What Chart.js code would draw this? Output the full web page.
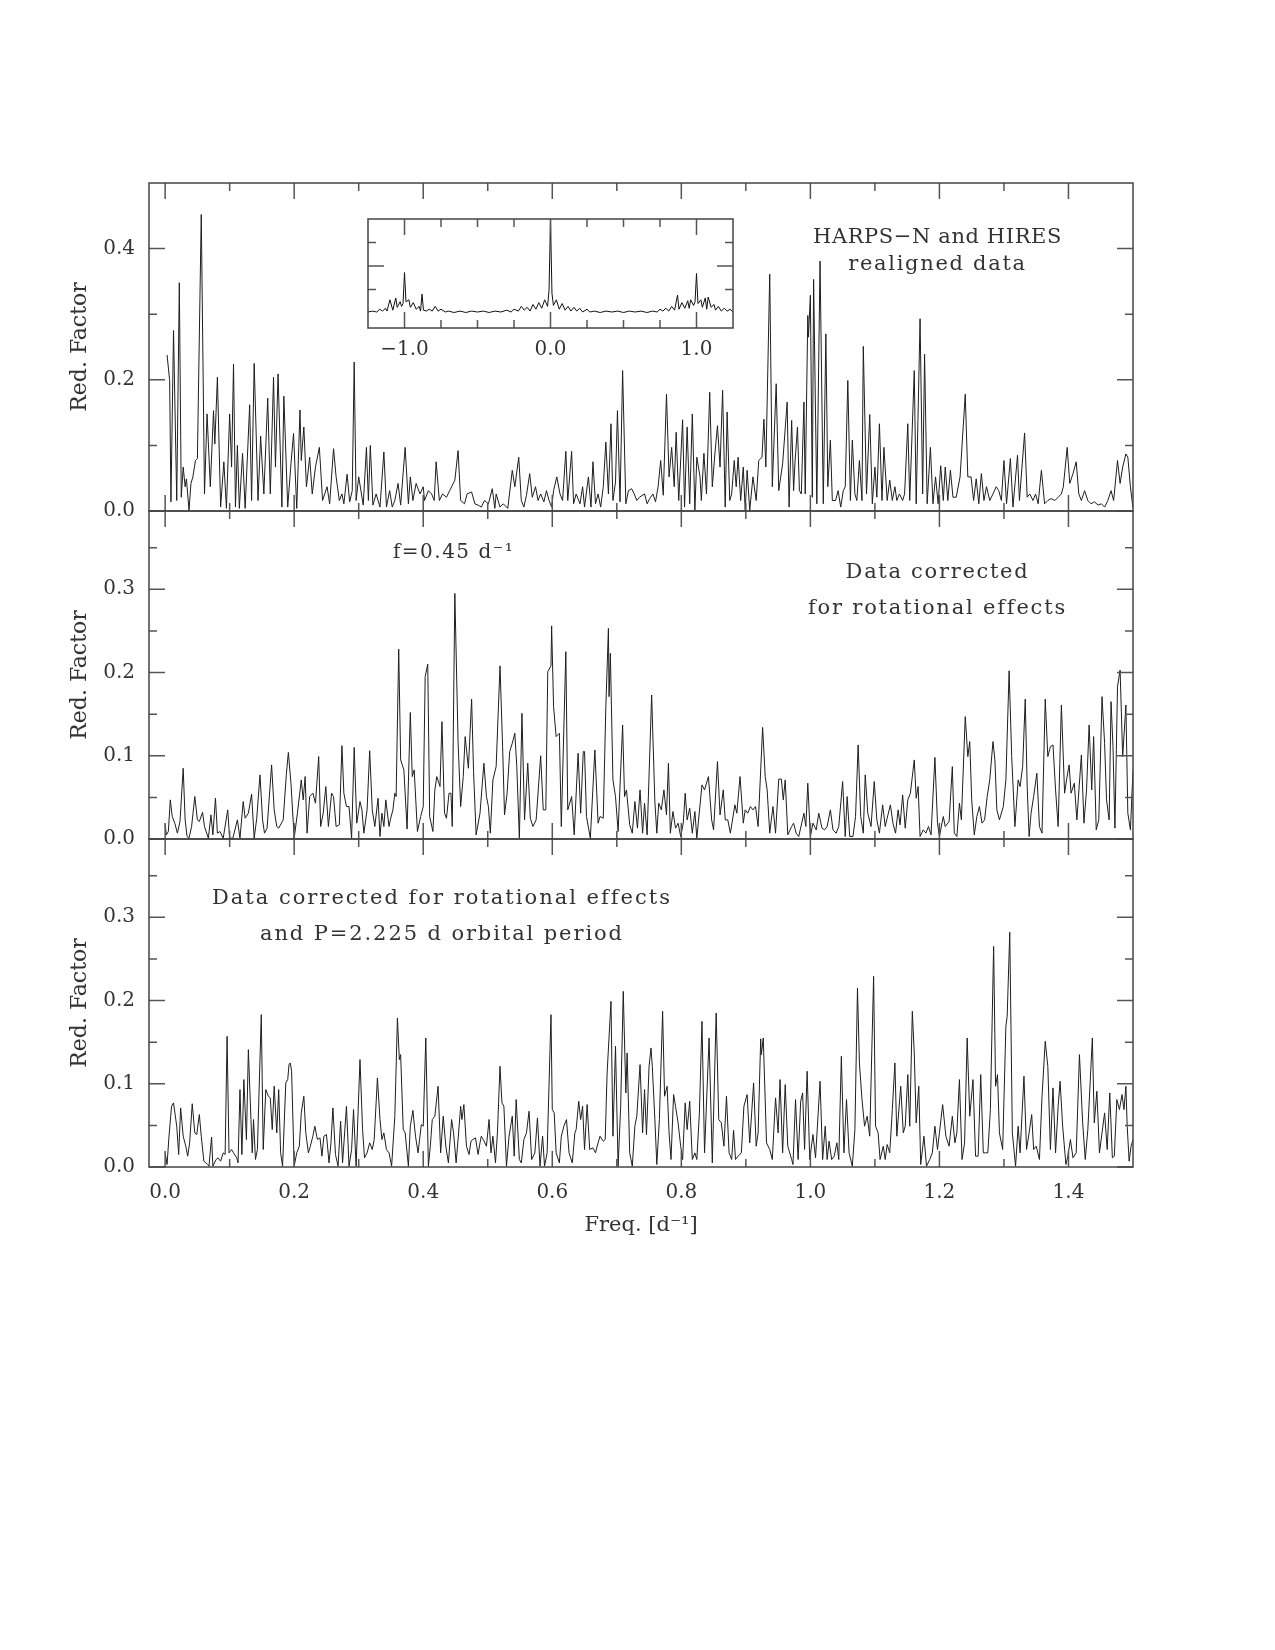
<!DOCTYPE html>
<html lang="en">
<head>
    <meta charset="UTF-8">
    <script src="https://cdn.jsdelivr.net/npm/chart.js"></script>
    <title>Red. Factor periodograms</title>
    <style>
        body {
            margin: 0;
            background: #fff;
        }
        #page {
            position: relative;
            width: 1275px;
            height: 1650px;
            background: #fff;
        }
        canvas {
            position: absolute;
            left: 0;
        }
    </style>
</head>
<body>
<div id="page">
    <canvas id="top" width="1275" height="338" style="top:178px"></canvas>
    <canvas id="mid" width="1275" height="338" style="top:506px"></canvas>
    <canvas id="bot" width="1275" height="420" style="top:834px"></canvas>
    <canvas id="win" width="460" height="150" style="left:300px;top:214px"></canvas>
</div>
<script>
    // tick values
    const freqTicks = [0, 0.2, 0.4, 0.6, 0.8, 1.0, 1.2, 1.4];
    const freqMinor = [0.1, 0.3, 0.5, 0.7, 0.9, 1.1, 1.3];
    const redTicksTop = [0, 0.2, 0.4];
    const redMinorTop = [0.1, 0.3];
    const redTicks = [0, 0.1, 0.2, 0.3];
    const redMinor = [0.05, 0.15, 0.25, 0.35];
    const winTicks = [-1, 0, 1];
    const winMinor = [-0.75, -0.5, -0.25, 0.25, 0.5, 0.75];

    // panel 1: HARPS-N and HIRES realigned data
    const freq1 = [
        0.003,0.007,0.009,0.013,0.018,0.022,0.025,0.028,0.031,0.033,
        0.037,0.040,0.043,0.047,0.050,0.056,0.061,0.065,0.070,0.075,
        0.077,0.081,0.086,0.091,0.095,0.100,0.103,0.106,0.109,0.112,
        0.115,0.120,0.124,0.131,0.134,0.138,0.144,0.148,0.153,0.159,
        0.163,0.168,0.171,0.175,0.181,0.184,0.190,0.195,0.199,0.204,
        0.209,0.211,0.215,0.219,0.224,0.228,0.233,0.239,0.244,0.251,
        0.255,0.261,0.265,0.270,0.274,0.277,0.282,0.286,0.290,0.293,
        0.296,0.300,0.307,0.312,0.315,0.318,0.322,0.327,0.333,0.339,
        0.343,0.348,0.352,0.356,0.361,0.365,0.372,0.377,0.380,0.384,
        0.389,0.395,0.400,0.402,0.408,0.413,0.417,0.420,0.425,0.430,
        0.436,0.441,0.449,0.454,0.458,0.464,0.468,0.475,0.480,0.485,
        0.490,0.495,0.501,0.507,0.511,0.513,0.519,0.524,0.531,0.538,
        0.542,0.548,0.552,0.556,0.560,0.565,0.569,0.574,0.578,0.582,
        0.587,0.591,0.595,0.599,0.602,0.607,0.612,0.616,0.621,0.624,
        0.630,0.633,0.637,0.643,0.647,0.650,0.656,0.660,0.663,0.667,
        0.671,0.675,0.679,0.683,0.687,0.691,0.694,0.698,0.701,0.705,
        0.709,0.714,0.718,0.723,0.727,0.731,0.735,
        0.743,0.747,0.751,0.756,0.760,0.764,0.768,0.772,0.777,0.781,
        0.785,0.789,0.792,0.796,0.802,0.805,0.809,0.813,0.817,0.821,
        0.824,0.829,0.831,0.835,0.839,0.844,0.848,0.852,0.856,0.860,
        0.864,0.868,0.871,0.875,0.878,0.882,0.885,0.888,0.892,0.896,
        0.899,0.902,0.906,0.911,0.916,0.920,0.925,0.928,0.931,0.937,
        0.941,0.947,0.951,0.957,0.964,0.967,0.971,0.974,0.976,0.980,
        0.983,0.986,0.990,0.992,0.996,0.997,1.000,1.003,1.005,1.010,
        1.015,1.020,1.024,1.027,1.031,1.034,1.039,1.043,1.047,1.051,
        1.054,1.058,1.062,1.065,1.069,1.072,1.076,1.080,1.082,1.087,
        1.092,1.096,1.100,1.103,1.107,1.111,1.114,1.119,1.123,1.127,
        1.131,1.134,1.138,1.143,1.146,1.151,1.154,1.161,1.164,1.170,
        1.174,1.177,1.181,1.186,1.190,1.194,1.198,1.202,1.206,1.209,
        1.213,1.217,1.221,1.226,1.232,1.240,1.244,1.249,1.253,1.257,
        1.261,1.265,1.269,1.273,1.278,1.283,1.288,1.292,1.296,1.300,
        1.304,1.310,1.314,1.321,1.324,1.332,1.336,1.340,1.345,1.349,
        1.353,1.358,1.363,1.368,1.373,1.379,1.384,1.389,1.392,1.398,
        1.402,1.407,1.412,1.416,1.420,1.425,1.430,1.435,1.440,1.446,
        1.451,1.456,1.461,1.466,1.470,1.476,1.480,1.484,1.489,1.492,
        1.496,1.500
    ];
    const red1 = [
        0.238,0.199,0.014,0.275,0.016,0.348,0.021,0.067,0.037,0.049,
        0.001,0.042,0.052,0.077,0.080,0.452,0.026,0.148,0.037,0.153,
        0.102,0.204,0.006,0.075,0.004,0.148,0.067,0.224,0.006,0.100,
        0.004,0.088,0.004,0.162,0.016,0.225,0.016,0.114,0.026,0.172,
        0.026,0.204,0.067,0.209,0.006,0.175,0.006,0.072,0.118,0.004,
        0.154,0.077,0.128,0.037,0.082,0.026,0.067,0.097,0.016,0.037,
        0.011,0.095,0.052,0.016,0.026,0.011,0.056,0.014,0.031,0.227,
        0.016,0.052,0.009,0.097,0.016,0.100,0.009,0.026,0.006,0.090,
        0.006,0.031,0.006,0.016,0.042,0.009,0.097,0.011,0.052,0.016,
        0.042,0.026,0.037,0.016,0.031,0.026,0.016,0.075,0.016,0.026,
        0.021,0.031,0.047,0.092,0.016,0.011,0.026,0.029,0.011,0.009,
        0.006,0.016,0.011,0.034,0.004,0.026,0.006,0.011,0.004,0.062,
        0.037,0.082,0.016,0.006,0.024,0.057,0.021,0.037,0.016,0.026,
        0.014,0.031,0.016,0.006,0.031,0.052,0.026,0.016,0.091,0.016,
        0.091,0.011,0.026,0.011,0.037,0.006,0.052,0.006,0.075,0.011,
        0.026,0.006,0.037,0.105,0.026,0.133,0.016,0.044,0.153,0.014,
        0.214,0.011,0.031,0.034,0.026,0.016,0.021,
        0.026,0.011,0.019,0.026,0.014,0.037,0.077,0.024,0.178,0.052,
        0.097,0.037,0.120,0.016,0.139,0.006,0.128,0.011,0.148,0.001,
        0.082,0.052,0.016,0.088,0.026,0.181,0.037,0.087,0.130,0.067,
        0.184,0.006,0.151,0.016,0.026,0.077,0.037,0.082,0.016,0.067,
        0.001,0.062,0.001,0.052,0.016,0.077,0.082,0.140,0.067,0.361,
        0.037,0.194,0.031,0.072,0.166,0.006,0.138,0.031,0.072,0.128,
        0.031,0.026,0.166,0.026,0.298,0.265,0.329,0.021,0.353,0.011,
        0.381,0.011,0.270,0.037,0.108,0.016,0.016,0.031,0.006,0.031,
        0.037,0.199,0.016,0.108,0.026,0.016,0.077,0.016,0.251,0.026,
        0.147,0.011,0.067,0.021,0.133,0.016,0.097,0.016,0.047,0.016,
        0.037,0.016,0.026,0.016,0.026,0.133,0.016,0.214,0.011,0.293,
        0.026,0.239,0.011,0.097,0.011,0.052,0.011,0.069,0.016,0.067,
        0.016,0.062,0.021,0.021,0.052,0.178,0.052,0.052,0.016,0.049,
        0.011,0.057,0.016,0.037,0.016,0.026,0.037,0.031,0.016,0.077,
        0.011,0.080,0.006,0.085,0.016,0.119,0.021,0.026,0.016,0.026,
        0.011,0.062,0.011,0.016,0.019,0.016,0.021,0.026,0.037,0.097,
        0.042,0.057,0.075,0.026,0.016,0.031,0.016,0.011,0.014,0.009,
        0.011,0.006,0.016,0.031,0.016,0.077,0.042,0.067,0.087,0.082,
        0.037,0.004
    ];

    // panel 2: data corrected for rotational effects
    const freq2 = [
        0.000,0.002,0.005,0.008,0.011,0.015,0.019,0.023,0.028,0.031,
        0.034,0.037,0.041,0.046,0.050,0.053,0.058,0.061,0.067,0.071,
        0.074,0.078,0.081,0.085,0.090,0.097,0.100,0.105,0.112,0.116,
        0.121,0.124,0.129,0.134,0.138,0.142,0.147,0.151,0.154,0.158,
        0.165,0.169,0.173,0.176,0.183,0.188,0.191,0.195,0.200,0.205,
        0.211,0.214,0.217,0.220,0.224,0.229,0.233,0.238,0.241,0.245,
        0.249,0.253,0.258,0.261,0.265,0.270,0.274,0.277,0.281,0.285,
        0.289,0.293,0.297,0.302,0.305,0.308,0.313,0.317,0.321,0.325,
        0.330,0.333,0.336,0.339,0.342,0.347,0.349,0.353,0.356,0.358,
        0.362,0.365,0.370,0.375,0.380,0.383,0.386,0.391,0.396,0.400,
        0.403,0.407,0.410,0.415,0.418,0.421,0.426,0.429,0.433,0.436,
        0.440,0.443,0.445,0.449,0.454,0.458,0.462,0.465,0.470,0.475,
        0.478,0.482,0.488,0.494,0.498,0.501,0.504,0.508,0.513,0.519,
        0.523,0.526,0.530,0.534,0.538,0.542,0.545,0.549,0.553,0.557,
        0.562,0.566,0.570,0.575,0.582,0.586,0.590,0.593,0.598,0.599,
        0.602,0.606,0.611,0.614,0.621,0.624,0.630,0.634,0.640,0.644,
        0.648,0.650,0.653,0.659,0.666,0.671,0.674,0.679,0.683,0.687,
        0.688,0.690,0.694,0.698,0.702,0.709,0.712,0.715,0.720,0.724,
        0.728,0.732,0.736,
        0.740,0.743,0.747,0.754,0.759,0.762,0.765,0.769,0.773,0.777,
        0.780,0.783,0.787,0.791,0.795,0.799,0.803,0.806,0.809,0.813,
        0.817,0.821,0.824,0.832,0.836,0.842,0.847,0.850,0.856,0.860,
        0.865,0.868,0.872,0.876,0.883,0.886,0.891,0.896,0.899,0.903,
        0.907,0.911,0.915,0.919,0.926,0.930,0.933,0.937,0.942,0.946,
        0.951,0.955,0.958,0.961,0.965,0.971,0.974,0.978,0.982,0.990,
        0.993,0.996,1.000,1.004,1.009,1.013,1.018,1.022,1.026,1.031,
        1.035,1.040,1.044,1.050,1.054,1.057,1.061,1.066,1.070,1.074,
        1.078,1.082,1.085,1.089,1.094,1.099,1.103,1.107,1.112,1.116,
        1.119,1.124,1.128,1.132,1.136,1.139,1.143,1.147,1.151,1.155,
        1.161,1.164,1.167,1.170,1.175,1.179,1.183,1.187,1.193,1.197,
        1.200,1.206,1.209,1.215,1.220,1.223,1.227,1.231,1.234,1.240,
        1.244,1.247,1.250,1.254,1.258,1.262,1.266,1.270,1.274,1.278,
        1.283,1.286,1.289,1.293,1.299,1.303,1.308,1.312,1.317,1.322,
        1.325,1.329,1.333,1.336,1.339,1.342,1.346,1.351,1.355,1.359,
        1.364,1.368,1.372,1.376,1.380,1.384,1.389,1.394,1.397,1.401,
        1.404,1.409,1.413,1.420,1.424,1.428,1.432,1.436,1.439,1.443,
        1.447,1.452,1.456,1.459,1.463,1.466,1.469,1.472,1.476,1.480,
        1.484,1.489,1.492,1.496,1.500
    ];
    const red2 = [
        0.017,0.005,0.009,0.047,0.027,0.019,0.007,0.021,0.085,0.023,
        0.003,0.001,0.015,0.051,0.023,0.021,0.032,0.015,0.001,0.029,
        0.005,0.049,0.007,0.009,0.001,0.035,0.001,0.001,0.023,0.001,
        0.045,0.025,0.031,0.054,0.001,0.025,0.077,0.023,0.007,0.013,
        0.089,0.035,0.015,0.013,0.023,0.079,0.104,0.067,0.001,0.031,
        0.071,0.047,0.075,0.007,0.051,0.055,0.043,0.099,0.015,0.031,
        0.063,0.015,0.055,0.051,0.015,0.017,0.112,0.055,0.039,0.039,
        0.001,0.110,0.019,0.045,0.035,0.007,0.035,0.106,0.035,0.015,
        0.049,0.003,0.031,0.015,0.047,0.015,0.023,0.035,0.055,0.051,
        0.228,0.095,0.083,0.012,0.152,0.075,0.083,0.009,0.027,0.039,
        0.195,0.210,0.027,0.009,0.059,0.075,0.063,0.141,0.031,0.025,
        0.055,0.055,0.015,0.295,0.117,0.039,0.075,0.123,0.085,0.168,
        0.081,0.005,0.031,0.091,0.051,0.039,0.007,0.071,0.087,0.208,
        0.111,0.029,0.055,0.105,0.115,0.127,0.087,0.001,0.151,0.023,
        0.091,0.025,0.015,0.023,0.100,0.035,0.035,0.201,0.208,0.256,
        0.159,0.123,0.127,0.015,0.225,0.035,0.051,0.005,0.103,0.031,
        0.105,0.105,0.027,0.001,0.107,0.019,0.027,0.025,0.159,0.253,
        0.171,0.223,0.071,0.051,0.009,0.137,0.051,0.059,0.017,0.007,
        0.045,0.013,0.059,
        0.007,0.043,0.005,0.173,0.045,0.007,0.043,0.035,0.059,0.029,
        0.091,0.007,0.033,0.013,0.019,0.003,0.019,0.055,0.023,0.037,
        0.007,0.033,0.001,0.065,0.059,0.075,0.023,0.011,0.093,0.029,
        0.059,0.023,0.023,0.007,0.041,0.031,0.075,0.019,0.035,0.031,
        0.039,0.035,0.039,0.015,0.134,0.075,0.059,0.007,0.039,0.007,
        0.072,0.072,0.047,0.071,0.005,0.015,0.019,0.007,0.003,0.031,
        0.015,0.067,0.003,0.019,0.011,0.031,0.013,0.011,0.015,0.035,
        0.011,0.007,0.015,0.069,0.003,0.051,0.003,0.003,0.027,0.113,
        0.027,0.007,0.077,0.031,0.015,0.069,0.023,0.007,0.041,0.015,
        0.025,0.041,0.019,0.007,0.035,0.017,0.053,0.013,0.047,0.055,
        0.095,0.049,0.063,0.003,0.011,0.007,0.015,0.005,0.098,0.019,
        0.003,0.027,0.015,0.021,0.087,0.007,0.003,0.043,0.023,0.147,
        0.099,0.117,0.047,0.005,0.027,0.039,0.019,0.023,0.051,0.071,
        0.117,0.095,0.035,0.023,0.039,0.071,0.202,0.099,0.015,0.071,
        0.063,0.087,0.168,0.063,0.003,0.031,0.051,0.079,0.015,0.007,
        0.168,0.099,0.111,0.113,0.059,0.015,0.161,0.055,0.071,0.089,
        0.055,0.067,0.023,0.101,0.019,0.059,0.137,0.059,0.123,0.011,
        0.023,0.171,0.115,0.047,0.023,0.165,0.111,0.013,0.183,0.203,
        0.099,0.161,0.031,0.011,0.083
    ];

    // panel 3: also corrected for the P=2.225 d orbit
    const freq3 = [
        0.000,0.003,0.006,0.010,0.013,0.018,0.021,0.024,0.028,0.032,
        0.035,0.038,0.042,0.046,0.049,0.053,0.056,0.060,0.066,0.068,
        0.072,0.074,0.079,0.082,0.086,0.090,0.093,0.096,0.099,0.103,
        0.106,0.111,0.113,0.116,0.119,0.122,0.126,0.129,0.133,0.135,
        0.137,0.140,0.143,0.149,0.152,0.156,0.160,0.163,0.166,0.169,
        0.173,0.176,0.179,0.182,0.187,0.190,0.192,0.194,0.196,0.200,
        0.204,0.208,0.211,0.215,0.218,0.222,0.225,0.229,0.232,0.236,
        0.240,0.243,0.246,0.250,0.254,0.257,0.260,0.264,0.268,0.272,
        0.275,0.281,0.285,0.289,0.292,0.296,0.302,0.306,0.309,0.313,
        0.317,0.321,0.324,0.329,0.333,0.336,0.339,0.343,0.347,0.351,
        0.356,0.360,0.363,0.365,0.369,0.372,0.377,0.380,0.384,0.388,
        0.392,0.397,0.400,0.404,0.408,0.411,0.414,0.418,0.423,0.427,
        0.431,0.435,0.439,0.444,0.447,0.451,0.454,0.458,0.460,0.463,
        0.467,0.471,0.474,0.477,0.481,0.485,0.488,0.490,0.493,0.498,
        0.502,0.505,0.508,0.512,0.515,0.519,0.522,0.525,0.529,0.533,
        0.538,0.541,0.544,0.549,0.552,0.556,0.560,0.564,0.568,0.573,
        0.577,0.581,0.585,0.588,0.592,0.598,0.600,0.603,0.606,0.611,
        0.614,0.618,0.622,0.626,0.631,0.635,0.637,0.641,0.644,0.647,
        0.650,0.654,0.658,0.663,0.667,0.671,0.674,0.679,0.682,0.685,
        0.691,0.694,0.698,0.702,0.706,0.710,0.714,0.716,0.720,0.724,
        0.728,0.731,0.736,
        0.740,0.743,0.746,0.750,0.753,0.755,0.759,0.762,0.766,0.771,
        0.774,0.778,0.781,0.784,0.788,0.791,0.795,0.799,0.802,0.806,
        0.809,0.813,0.817,0.821,0.824,0.828,0.832,0.836,0.843,0.848,
        0.854,0.858,0.862,0.866,0.870,0.874,0.878,0.881,0.884,0.888,
        0.893,0.897,0.902,0.906,0.912,0.916,0.919,0.923,0.924,0.927,
        0.932,0.937,0.941,0.946,0.950,0.953,0.957,0.961,0.965,0.971,
        0.973,0.977,0.981,0.985,0.988,0.991,0.995,0.999,1.004,1.008,
        1.015,1.019,1.023,1.026,1.029,1.033,1.037,1.041,1.044,1.048,
        1.052,1.056,1.060,1.065,1.069,1.073,1.076,1.080,1.084,1.088,
        1.092,1.098,1.101,1.105,1.108,1.113,1.116,1.119,1.123,1.127,
        1.131,1.134,1.140,1.144,1.147,1.151,1.154,1.158,1.161,1.164,
        1.168,1.171,1.176,1.180,1.185,1.189,1.193,1.197,1.200,1.205,
        1.210,1.215,1.220,1.224,1.227,1.231,1.235,1.239,1.243,1.247,
        1.252,1.256,1.260,1.264,1.268,1.271,1.275,1.279,1.284,1.287,
        1.290,1.293,1.298,1.303,1.305,1.309,1.313,1.318,1.322,1.325,
        1.331,1.335,1.339,1.343,1.346,1.350,1.355,1.359,1.364,1.368,
        1.372,1.376,1.380,1.384,1.387,1.391,1.396,1.399,1.403,1.407,
        1.412,1.417,1.422,1.426,1.430,1.437,1.440,1.444,1.448,1.452,
        1.456,1.460,1.464,1.468,1.471,1.475,1.479,1.483,1.486,1.489,
        1.491,1.494,1.497,1.500
    ];
    const red3 = [
        0.017,0.003,0.037,0.073,0.077,0.049,0.015,0.071,0.037,0.025,
        0.013,0.029,0.076,0.041,0.039,0.063,0.037,0.007,0.003,0.001,
        0.036,0.001,0.009,0.011,0.007,0.017,0.015,0.157,0.017,0.021,
        0.017,0.011,0.005,0.093,0.015,0.105,0.033,0.141,0.057,0.017,
        0.057,0.009,0.021,0.183,0.021,0.093,0.085,0.083,0.045,0.097,
        0.041,0.093,0.017,0.001,0.101,0.105,0.123,0.125,0.115,0.001,
        0.017,0.025,0.065,0.085,0.041,0.017,0.025,0.037,0.049,0.033,
        0.035,0.013,0.037,0.039,0.005,0.029,0.071,0.015,0.001,0.055,
        0.005,0.073,0.001,0.021,0.069,0.001,0.129,0.045,0.011,0.017,
        0.029,0.021,0.033,0.107,0.057,0.033,0.041,0.021,0.017,0.001,
        0.061,0.179,0.129,0.135,0.045,0.041,0.001,0.049,0.068,0.037,
        0.017,0.051,0.049,0.155,0.001,0.025,0.057,0.061,0.097,0.017,
        0.061,0.025,0.005,0.057,0.041,0.005,0.033,0.073,0.057,0.075,
        0.025,0.015,0.031,0.033,0.035,0.015,0.029,0.037,0.033,0.025,
        0.057,0.017,0.037,0.005,0.041,0.121,0.077,0.073,0.001,0.037,
        0.061,0.013,0.081,0.009,0.005,0.033,0.041,0.067,0.009,0.017,
        0.059,0.001,0.037,0.001,0.017,0.183,0.069,0.065,0.017,0.005,
        0.037,0.049,0.057,0.017,0.005,0.041,0.045,0.079,0.057,0.073,
        0.021,0.075,0.021,0.023,0.017,0.029,0.037,0.031,0.033,0.113,
        0.199,0.037,0.145,0.001,0.073,0.211,0.089,0.137,0.017,0.001,
        0.049,0.061,0.123,
        0.041,0.093,0.039,0.121,0.143,0.121,0.057,0.003,0.057,0.187,
        0.085,0.097,0.041,0.009,0.087,0.073,0.053,0.025,0.009,0.077,
        0.045,0.079,0.009,0.017,0.009,0.065,0.175,0.017,0.155,0.005,
        0.185,0.057,0.053,0.025,0.085,0.017,0.009,0.044,0.009,0.013,
        0.017,0.073,0.087,0.029,0.101,0.025,0.041,0.154,0.135,0.155,
        0.029,0.021,0.009,0.083,0.041,0.105,0.017,0.099,0.025,0.009,
        0.003,0.081,0.009,0.079,0.089,0.021,0.115,0.009,0.039,0.011,
        0.103,0.009,0.049,0.009,0.031,0.009,0.013,0.029,0.009,0.133,
        0.017,0.081,0.017,0.001,0.045,0.215,0.125,0.081,0.049,0.061,
        0.037,0.229,0.049,0.041,0.009,0.025,0.009,0.027,0.017,0.069,
        0.125,0.037,0.097,0.041,0.049,0.111,0.049,0.187,0.137,0.053,
        0.097,0.003,0.037,0.001,0.009,0.017,0.049,0.021,0.041,0.075,
        0.037,0.025,0.061,0.029,0.041,0.105,0.009,0.029,0.155,0.061,
        0.105,0.013,0.013,0.111,0.017,0.017,0.017,0.069,0.265,0.097,
        0.111,0.041,0.021,0.169,0.181,0.282,0.041,0.001,0.049,0.017,
        0.109,0.021,0.041,0.063,0.021,0.025,0.009,0.085,0.151,0.121,
        0.021,0.095,0.017,0.073,0.103,0.049,0.003,0.013,0.033,0.011,
        0.017,0.135,0.053,0.009,0.045,0.155,0.053,0.091,0.017,0.041,
        0.065,0.021,0.089,0.011,0.013,0.081,0.069,0.087,0.069,0.097,
        0.049,0.007,0.025,0.033
    ];

    // inset: spectral window
    const winFreq = [
        -1.25,-1.22,-1.19,-1.17,-1.15,-1.13,-1.12,-1.10,-1.08,-1.06,
        -1.05,-1.03,-1.02,-1.01,-1.00,-0.99,-0.97,-0.96,-0.94,-0.92,
        -0.90,-0.89,-0.88,-0.87,-0.85,-0.83,-0.81,-0.79,-0.77,-0.75,
        -0.72,-0.70,-0.66,-0.62,-0.58,-0.54,-0.50,-0.46,-0.42,-0.38,
        -0.34,-0.30,-0.27,-0.25,-0.22,-0.20,-0.18,-0.16,-0.14,-0.12,
        -0.10,-0.08,-0.06,-0.04,-0.02,-0.01,0.00,0.01,0.02,0.04,
        0.06,0.08,0.10,0.12,0.14,0.16,0.18,0.20,0.22,0.25,
        0.27,0.30,0.34,0.38,0.42,0.46,0.50,0.54,0.58,0.62,
        0.66,0.70,0.73,0.75,0.77,0.79,0.81,0.83,0.85,0.87,
        0.88,0.90,0.92,0.94,0.95,0.96,0.98,0.99,1.00,1.01,
        1.03,1.04,1.06,1.07,1.08,1.10,1.12,1.13,1.15,1.17,
        1.19,1.21,1.23,1.25
    ];
    const winPow = [
        0.01,0.02,0.01,0.04,0.02,0.05,0.02,0.14,0.03,0.16,
        0.06,0.12,0.07,0.10,0.43,0.12,0.14,0.06,0.11,0.04,
        0.07,0.02,0.20,0.03,0.02,0.04,0.02,0.07,0.02,0.04,
        0.01,0.02,0.005,0.02,0.005,0.02,0.01,0.02,0.005,0.02,
        0.01,0.03,0.01,0.04,0.02,0.07,0.03,0.06,0.02,0.09,
        0.04,0.11,0.05,0.14,0.07,0.24,1.00,0.21,0.08,0.14,
        0.04,0.10,0.03,0.07,0.02,0.06,0.02,0.05,0.01,0.04,
        0.01,0.02,0.005,0.02,0.01,0.02,0.005,0.02,0.01,0.02,
        0.005,0.02,0.01,0.04,0.02,0.05,0.02,0.07,0.03,0.19,
        0.04,0.11,0.05,0.13,0.05,0.14,0.08,0.12,0.42,0.10,
        0.14,0.06,0.16,0.04,0.17,0.06,0.09,0.03,0.07,0.02,
        0.05,0.02,0.04,0.01
    ];

    const FONT = "'DejaVu Serif', serif";
    const INK = '#333';
    Chart.defaults.font.family = FONT;
    Chart.defaults.color = INK;

    // frame + inward ticks on all four sides
    const frameTicks = {
        id: 'frameTicks',
        afterDatasetsDraw(chart, args, o) {
            const {ctx, chartArea: a} = chart;
            const x = chart.scales.x, y = chart.scales.y;
            ctx.save();
            ctx.strokeStyle = '#555';
            ctx.lineWidth = 1.5;
            ctx.beginPath();
            const vt = (vals, len) => vals.forEach(v => {
                const px = x.getPixelForValue(v);
                ctx.moveTo(px, a.top); ctx.lineTo(px, a.top + len);
                ctx.moveTo(px, a.bottom); ctx.lineTo(px, a.bottom - len);
            });
            const ht = (vals, len) => vals.forEach(v => {
                const py = y.getPixelForValue(v);
                ctx.moveTo(a.left, py); ctx.lineTo(a.left + len, py);
                ctx.moveTo(a.right, py); ctx.lineTo(a.right - len, py);
            });
            vt(o.xMajor, 16); vt(o.xMinor, 8);
            ht(o.yMajor, 16); ht(o.yMinor, 8);
            ctx.stroke();
            ctx.strokeStyle = '#444';
            ctx.strokeRect(a.left, a.top, a.right - a.left, a.bottom - a.top);
            ctx.restore();
        }
    };

    // text written inside the panels
    const notes = {
        id: 'notes',
        afterDraw(chart, args, o) {
            if (!o.items) return;
            const {ctx} = chart;
            const x = chart.scales.x, y = chart.scales.y;
            o.items.forEach(n => {
                ctx.save();
                ctx.font = n.size + 'px ' + FONT;
                ctx.letterSpacing = n.spacing + 'px';
                ctx.fillStyle = INK;
                ctx.textAlign = n.align;
                ctx.textBaseline = 'alphabetic';
                ctx.fillText(n.text, x.getPixelForValue(n.x), y.getPixelForValue(n.y));
                ctx.restore();
            });
        }
    };

    function makePanel(id, freq, red, cfg) {
        return new Chart(document.getElementById(id), {
            type: 'line',
            data: {
                datasets: [{
                    data: freq.map((f, i) => ({x: f, y: red[i]})),
                    borderColor: '#1e1e1e',
                    borderWidth: 1,
                    pointRadius: 0,
                    tension: 0,
                    fill: false
                }]
            },
            options: {
                responsive: false,
                animation: false,
                events: [],
                layout: {padding: {left: 0, right: 142, top: 5, bottom: cfg.padBottom}},
                plugins: {
                    legend: {display: false},
                    tooltip: {enabled: false},
                    frameTicks: {xMajor: freqTicks, xMinor: freqMinor, yMajor: cfg.yMajor, yMinor: cfg.yMinor},
                    notes: {items: cfg.notes}
                },
                scales: {
                    x: {
                        type: 'linear',
                        min: -0.025,
                        max: 1.5,
                        display: cfg.showX,
                        grid: {display: false, drawTicks: false},
                        border: {display: false},
                        ticks: {
                            padding: 14,
                            autoSkip: false,
                            maxRotation: 0,
                            font: {size: 20},
                            callback: v => v.toFixed(1)
                        },
                        afterBuildTicks: s => { s.ticks = freqTicks.map(v => ({value: v})); },
                        afterFit: s => { s.height = cfg.showX ? 87 : 0; s.paddingLeft = 0; s.paddingRight = 0; },
                        title: {
                            display: true,
                            text: 'Freq. [d\u207B\u00B9]',
                            font: {size: 21},
                            padding: {top: 0, bottom: 16}
                        }
                    },
                    y: {
                        type: 'linear',
                        min: 0,
                        max: cfg.yMax,
                        grid: {display: false, drawTicks: false},
                        border: {display: false},
                        ticks: {padding: 14, font: {size: 20}, callback: v => v.toFixed(1)},
                        afterBuildTicks: s => { s.ticks = cfg.yMajor.map(v => ({value: v})); },
                        afterFit: s => { s.width = 149; s.paddingTop = 0; s.paddingBottom = 0; },
                        title: {
                            display: true,
                            text: 'Red. Factor',
                            font: {size: 22},
                            padding: {top: 67, bottom: 0}
                        }
                    }
                }
            },
            plugins: [frameTicks, notes]
        });
    }

    makePanel('top', freq1, red1, {
        yMax: 0.5, yMajor: redTicksTop, yMinor: redMinorTop, showX: false, padBottom: 5,
        notes: [
            {text: 'HARPS\u2212N and HIRES', x: 1.197, y: 0.409, size: 21, spacing: 0.6, align: 'center'},
            {text: 'realigned data', x: 1.197, y: 0.368, size: 21, spacing: 1.7, align: 'center'}
        ]
    });
    makePanel('mid', freq2, red2, {
        yMax: 0.394, yMajor: redTicks, yMinor: redMinor, showX: false, padBottom: 5,
        notes: [
            {text: 'f=0.45 d\u207B\u00B9', x: 0.353, y: 0.337, size: 20, spacing: 1.5, align: 'left'},
            {text: 'Data corrected', x: 1.197, y: 0.314, size: 21, spacing: 1.7, align: 'center'},
            {text: 'for rotational effects', x: 1.197, y: 0.270, size: 21, spacing: 1.8, align: 'center'}
        ]
    });
    makePanel('bot', freq3, red3, {
        yMax: 0.394, yMajor: redTicks, yMinor: redMinor, showX: true, padBottom: 0,
        notes: [
            {text: 'Data corrected for rotational effects', x: 0.429, y: 0.3165, size: 21, spacing: 2, align: 'center'},
            {text: 'and P=2.225 d orbital period', x: 0.429, y: 0.273, size: 21, spacing: 1.9, align: 'center'}
        ]
    });

    // inset with the spectral window
    new Chart(document.getElementById('win'), {
        type: 'line',
        data: {
            datasets: [{
                data: winFreq.map((f, i) => ({x: f, y: winPow[i]})),
                borderColor: '#111',
                borderWidth: 1,
                pointRadius: 0,
                tension: 0,
                fill: false
            }]
        },
        options: {
            responsive: false,
            animation: false,
            events: [],
            layout: {padding: {left: 68, right: 27, top: 5, bottom: 0}},
            plugins: {
                legend: {display: false},
                tooltip: {enabled: false},
                frameTicks: {xMajor: winTicks, xMinor: winMinor, yMajor: [0.5], yMinor: [0.25, 0.75]}
            },
            scales: {
                x: {
                    type: 'linear',
                    min: -1.25,
                    max: 1.25,
                    grid: {display: false, drawTicks: false},
                    border: {display: false},
                    ticks: {
                        padding: 10,
                        autoSkip: false,
                        maxRotation: 0,
                        font: {size: 20},
                        callback: v => v.toFixed(1).replace('-', '\u2212')
                    },
                    afterBuildTicks: s => { s.ticks = winTicks.map(v => ({value: v})); },
                    afterFit: s => { s.height = 36; s.paddingLeft = 0; s.paddingRight = 0; }
                },
                y: {
                    type: 'linear',
                    min: -0.16,
                    max: 1.0,
                    display: false
                }
            }
        },
        plugins: [frameTicks]
    });
</script>
</body>
</html>
